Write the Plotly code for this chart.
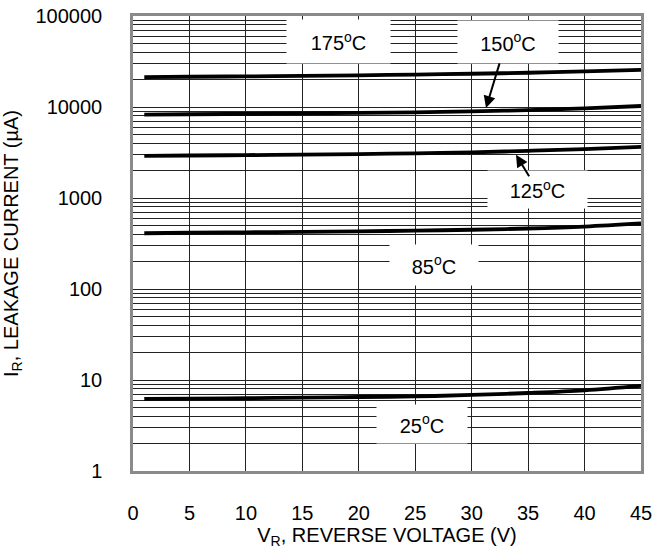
import plotly.graph_objects as go

# Data
voltage = [1, 5, 10, 15, 20, 25, 30, 35, 40, 45]
i_25c = [6.2, 6.25, 6.3, 6.4, 6.5, 6.6, 6.85, 7.2, 7.7, 8.6]
i_85c = [410, 415, 420, 425, 430, 438, 448, 462, 485, 525]
i_125c = [2900, 2930, 2960, 3000, 3040, 3100, 3180, 3300, 3450, 3650]
i_150c = [8250, 8320, 8400, 8500, 8600, 8750, 8950, 9250, 9650, 10250]
i_175c = [21300, 21500, 21700, 22000, 22300, 22700, 23200, 23800, 24600, 25600]

x_ticks = [0, 5, 10, 15, 20, 25, 30, 35, 40, 45]
y_ticks = [1, 10, 100, 1000, 10000, 100000]
y_ticktext = ["1", "10", "100", "1000", "10000", "100000"]
y_minor = [m * 10 ** d for d in range(5) for m in range(2, 10)]

FONT = "Liberation Sans, Arial, sans-serif"
FS = 20

fig = go.Figure()
for ys in [i_25c, i_85c, i_125c, i_150c, i_175c]:
    fig.add_trace(go.Scatter(x=voltage, y=ys, mode="lines",
                             line=dict(color="black", width=3.8, shape="spline"),
                             showlegend=False, hoverinfo="skip"))

grid_col = "#222222"
fig.update_xaxes(range=[0, 45], tickvals=x_ticks, showgrid=True, gridcolor=grid_col,
                 gridwidth=1, showline=True, mirror=True, linecolor="#8a8a8a", linewidth=2.5,
                 zeroline=False, ticks="", ticklabelstandoff=22, automargin=False,
                 tickfont=dict(family=FONT, size=FS, color="black"),
                 title=dict(text="V<sub>R</sub>, REVERSE VOLTAGE (V)",
                            font=dict(family=FONT, size=FS, color="black"), standoff=6))
fig.update_yaxes(type="log", range=[0, 5], tickvals=y_ticks, ticktext=y_ticktext,
                 showgrid=True, gridcolor=grid_col, gridwidth=1,
                 minor=dict(tickvals=y_minor, showgrid=True, gridcolor=grid_col, gridwidth=1, ticks=""),
                 showline=True, mirror=True, linecolor="#8a8a8a", linewidth=2.5,
                 zeroline=False, ticks="", ticklabelstandoff=24, automargin=False,
                 ticklabeloverflow="allow",
                 tickfont=dict(family=FONT, size=FS, color="black"),
                 title=dict(text="I<sub>R</sub>, LEAKAGE CURRENT (\u00b5A)",
                            font=dict(family=FONT, size=FS, color="black"), standoff=14))

labels = [
    ("175<sup>o</sup>C", 18.16, 0.943, 103, 43),
    ("150<sup>o</sup>C", 33.2, 0.943, 100, 42),
    ("125<sup>o</sup>C", 35.8, 0.618, 99, 37),
    ("85<sup>o</sup>C", 26.66, 0.453, 88, 40),
    ("25<sup>o</sup>C", 25.6, 0.103, 90, 38),
]
for txt, xv, yp, w, h in labels:
    fig.add_annotation(text=txt, x=xv, y=yp, xref="x", yref="paper", showarrow=False,
                       xanchor="center", yanchor="middle",
                       bgcolor="white", width=w, height=h, borderpad=0,
                       font=dict(family=FONT, size=FS, color="black"))

arrows = [(31.27, 0.798, 14, -46), (33.93, 0.695, 14, 23)]
for xv, yp, axp, ayp in arrows:
    fig.add_annotation(text="", x=xv, y=yp, xref="x", yref="paper", showarrow=True,
                       ax=axp, ay=ayp, arrowhead=2, arrowsize=1.2, arrowwidth=2,
                       arrowcolor="black")

fig.update_layout(width=665, height=550, margin=dict(l=133, r=24, t=16, b=79),
                  plot_bgcolor="white", paper_bgcolor="white",
                  font=dict(family=FONT, size=FS, color="black"))
# remove the default 8px page margin so the figure fills the 665x550 window
fig.write_html("out.html", config={"displayModeBar": False},
               post_script="document.body.style.margin='0px';")
